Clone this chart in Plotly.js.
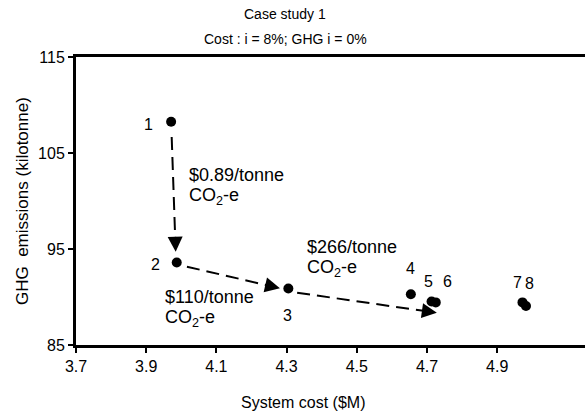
<!DOCTYPE html>
<html>
<head>
<meta charset="utf-8">
<script src="https://cdn.plot.ly/plotly-3.0.1.min.js"></script>
<style>html,body{margin:0;padding:0;background:#fff;}#chart{width:585px;height:417px;}</style>
</head>
<body>
<div id="chart"></div>
<script>
// Data
var optionLabels = ["1", "2", "3", "4", "5", "6", "7", "8"];
var systemCost = [3.971, 3.987, 4.305, 4.654, 4.713, 4.725, 4.972, 4.982]; // $M
var ghgEmissions = [108.26, 93.59, 90.89, 90.28, 89.54, 89.44, 89.44, 89.06]; // kilotonne
var xTicks = [3.7, 3.9, 4.1, 4.3, 4.5, 4.7, 4.9];
var yTicks = [85, 95, 105, 115];
var costLabels = ["$0.89/tonne", "$110/tonne", "$266/tonne"];
// arrows: [tailX, tailY, tipX, tipY]
var arrows = [
  [3.9726, 106.67, 3.984, 94.72],
  [4.016, 93.16, 4.281, 90.91],
  [4.330, 90.45, 4.728, 88.36]
];

var FONT = "Liberation Sans, Arial, sans-serif";
// pixel -> data helpers for text placement (plot area: x 76..585, y 57..345)
var X0 = 3.7, PXX = 351, Y1 = 115, PXY = 9.6;
function dx(px) { return X0 + (px - 76) / PXX; }
function dy(py) { return Y1 - (py - 57) / PXY; }

var ann = [];
// point labels offsets (pixels)
var labelShift = [[-23, -3], [-21, -2], [-1, -27], [0, 26], [-3, 20], [12, 21], [-5, 20], [4, 23]];
for (var i = 0; i < optionLabels.length; i++) {
  ann.push({x: systemCost[i], y: ghgEmissions[i], xref: 'x', yref: 'y', text: optionLabels[i],
    showarrow: false, xshift: labelShift[i][0], yshift: labelShift[i][1], xanchor: 'center', yanchor: 'middle',
    font: {family: FONT, size: 16, color: '#000'}});
}
// cost labels (left-aligned): [left px, first-line centre px]
var costPos = [[187, 175], [163, 297], [305, 247]];
for (var j = 0; j < costLabels.length; j++) {
  ann.push({x: dx(costPos[j][0]), y: dy(costPos[j][1]), xref: 'x', yref: 'y', text: costLabels[j],
    showarrow: false, xanchor: 'left', yanchor: 'middle', font: {family: FONT, size: 18, color: '#000'}});
  ann.push({x: dx(costPos[j][0]), y: dy(costPos[j][1] + 21), xref: 'x', yref: 'y', text: 'CO<sub>2</sub>-e',
    showarrow: false, xanchor: 'left', yanchor: 'middle', font: {family: FONT, size: 18, color: '#000'}});
}
// arrows
var shapes = [];
for (var k = 0; k < arrows.length; k++) {
  var a = arrows[k];
  var fx = 0.93;
  shapes.push({type: 'line', xref: 'x', yref: 'y', x0: a[0], y0: a[1],
    x1: a[0] + (a[2] - a[0]) * fx, y1: a[1] + (a[3] - a[1]) * fx,
    line: {color: '#000', width: 2, dash: '13px,7px'}});
  var bx = a[0] + (a[2] - a[0]) * 0.9, by = a[1] + (a[3] - a[1]) * 0.9;
  ann.push({x: a[2], y: a[3], xref: 'x', yref: 'y', ax: bx, ay: by, axref: 'x', ayref: 'y',
    text: '', showarrow: true, arrowhead: 2, arrowsize: 1.5, arrowwidth: 2, arrowcolor: '#000', standoff: 0, startstandoff: 0});
}
// titles
ann.push({xref: 'paper', yref: 'paper', x: (285 - 76) / 509, y: 1, yshift: 43, xanchor: 'center', yanchor: 'middle',
  text: 'Case study 1', showarrow: false, font: {family: FONT, size: 14, color: '#000'}});
ann.push({xref: 'paper', yref: 'paper', x: (285 - 76) / 509, y: 1, yshift: 18, xanchor: 'center', yanchor: 'middle',
  text: 'Cost : i = 8%; GHG i = 0%', showarrow: false, font: {family: FONT, size: 14, color: '#000'}});
ann.push({xref: 'paper', yref: 'paper', x: (303 - 76) / 509, y: 0, yshift: -57, xanchor: 'center', yanchor: 'middle',
  text: 'System cost ($M)', showarrow: false, font: {family: FONT, size: 16, color: '#000'}});
ann.push({xref: 'paper', yref: 'paper', x: (22 - 76) / 509, y: 0.5, yshift: 0, xanchor: 'center', yanchor: 'middle',
  text: 'GHG\u00a0 emissions (kilotonne)', textangle: -90, showarrow: false,
  font: {family: FONT, size: 17, color: '#000'}});

var trace = {x: systemCost, y: ghgEmissions, mode: 'markers', type: 'scatter',
  marker: {color: '#000', size: 10}, hoverinfo: 'skip', cliponaxis: false};

var layout = {
  width: 585, height: 417,
  margin: {l: 76, r: 0, t: 57, b: 72},
  paper_bgcolor: '#fff', plot_bgcolor: '#fff',
  showlegend: false,
  font: {family: FONT, size: 16, color: '#000'},
  xaxis: {range: [3.7, 3.7 + 509 / 351], tickvals: xTicks, ticktext: xTicks.map(function (v) { return v.toFixed(1); }),
    showgrid: false, zeroline: false, showline: true, linewidth: 3, linecolor: '#000', mirror: true,
    ticks: 'outside', ticklen: 5, tickwidth: 2, tickcolor: '#000', tickfont: {family: FONT, size: 16, color: '#000'}},
  yaxis: {range: [85, 115], tickvals: yTicks, showgrid: false, zeroline: false, showline: true, linewidth: 3, linecolor: '#000',
    ticks: 'outside', ticklen: 5, tickwidth: 2, tickcolor: '#000', tickfont: {family: FONT, size: 16, color: '#000'}},
  annotations: ann,
  shapes: shapes
};
Plotly.newPlot('chart', [trace], layout, {staticPlot: true, displayModeBar: false});
</script>
</body>
</html>
